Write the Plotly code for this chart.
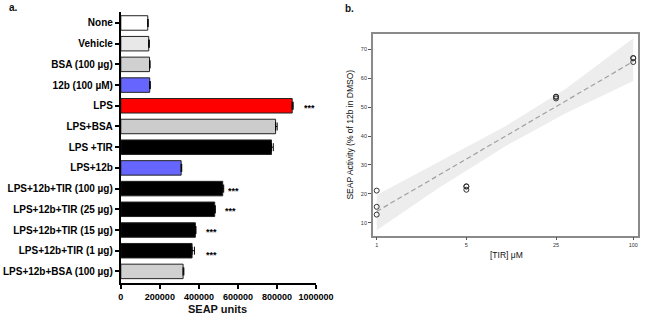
import plotly.graph_objects as go

# ---------------- Panel a data ----------------
categories = ["None", "Vehicle", "BSA (100 µg)", "12b (100 µM)", "LPS", "LPS+BSA",
              "LPS +TIR", "LPS+12b", "LPS+12b+TIR (100 µg)", "LPS+12b+TIR (25 µg)",
              "LPS+12b+TIR (15 µg)", "LPS+12b+TIR (1 µg)", "LPS+12b+BSA (100 µg)"]
seap_mean = [138000, 143000, 147000, 148000, 878000, 793000, 772000,
             309000, 522000, 481000, 382000, 365000, 319000]
seap_err = [2000, 3000, 3000, 3000, 5000, 8000, 9000,
            3000, 5000, 3000, 3000, 12000, 4000]
significance = ["", "", "", "", "***", "", "", "", "***", "***", "***", "***", ""]
seap_ticks = [0, 200000, 400000, 600000, 800000, 1000000]

# ---------------- Panel b data ----------------
tir_conc = [1, 1, 1, 5, 5, 5, 25, 25, 25, 100, 100, 100]
activity = [21.1, 15.5, 12.8, 21.4, 22.5, 22.6, 53.0, 53.6, 53.6, 65.6, 66.9, 67.0]
fit_x = [1, 100]
fit_y = [13.9, 65.8]
band_x = [1, 3, 10, 30, 100]
band_lower = [7.4, 21.8, 36.4, 48.0, 59.0]
band_upper = [19.6, 30.9, 43.3, 56.4, 73.8]
tir_ticks = [1, 5, 25, 100]
act_ticks = [10, 20, 30, 40, 50, 60, 70]

# ---------------- styles ----------------
bar_colors = ["#ffffff", "#e8e8e8", "#d0d0d0", "#6666ff", "#ff0000", "#cccccc",
              "#000000", "#6666ff", "#000000", "#000000", "#000000", "#000000", "#d0d0d0"]
star_x = [0, 0, 0, 0, 965000, 0, 0, 0, 577000, 562000, 465000, 465000, 0]
star_shift = [0, 0, 0, 0, -2, 0, 0, 0, -2, -2, -2, -4, 0]

W, H = 660, 318
FONT = "Liberation Sans, Arial, sans-serif"


def px_x(p):
    return p / W


def px_y(p):
    return (H - p) / H


fig = go.Figure()

fig.add_trace(go.Bar(
    y=categories, x=seap_mean, orientation="h", width=0.7,
    marker=dict(color=bar_colors, line=dict(color="#222222", width=1)),
    error_x=dict(type="data", array=seap_err, arrayminus=[0] * len(seap_err),
                 symmetric=False, color="black", thickness=1, width=4),
    xaxis="x", yaxis="y", hoverinfo="x+y"))

for cat, s, sx, sh in zip(categories, significance, star_x, star_shift):
    if s:
        fig.add_annotation(x=sx, y=cat, xref="x", yref="y", text="<b>" + s + "</b>",
                           showarrow=False, yshift=sh,
                           font=dict(family=FONT, size=9, color="black"))

# Panel b
fig.add_trace(go.Scatter(
    x=band_x + band_x[::-1], y=band_upper + band_lower[::-1],
    fill="toself", fillcolor="#ededed", line=dict(width=0), mode="lines",
    xaxis="x2", yaxis="y2", hoverinfo="skip"))
fig.add_trace(go.Scatter(
    x=fit_x, y=fit_y, mode="lines",
    line=dict(color="#a0a0a0", width=1.2, dash="5px,3px"),
    xaxis="x2", yaxis="y2"))
fig.add_trace(go.Scatter(
    x=tir_conc, y=activity, mode="markers",
    marker=dict(symbol="circle-open", size=5, color="#333333", line=dict(width=1)),
    xaxis="x2", yaxis="y2"))

fig.update_layout(
    width=W, height=H, autosize=False, margin=dict(l=0, r=0, t=0, b=0, pad=0),
    paper_bgcolor="white", plot_bgcolor="white", showlegend=False,
    font=dict(family=FONT, color="black"),
    xaxis=dict(domain=[px_x(121.7), px_x(323.3)], range=[0, 1000000],
               tickvals=seap_ticks, tickformat="d", anchor="y",
               showline=True, linecolor="black", linewidth=2,
               ticks="outside", ticklen=4, tickwidth=1.5, tickcolor="black",
               tickfont=dict(family=FONT, size=9, color="black", weight="bold"),
               showgrid=False, zeroline=False),
    yaxis=dict(domain=[px_y(283), px_y(12)], type="category",
               categoryorder="array", categoryarray=categories,
               range=[12.56, -0.53], anchor="x",
               showline=True, linecolor="black", linewidth=2,
               ticks="outside", ticklen=4, tickwidth=1.5, tickcolor="black",
               tickfont=dict(family=FONT, size=10, color="black", weight="bold"),
               showgrid=False, zeroline=False),
    xaxis2=dict(domain=[px_x(382), px_x(656)], type="log", range=[-0.030, 2.038],
                tickvals=tir_ticks, ticktext=[str(t) for t in tir_ticks], anchor="y2",
                showline=True, mirror=True, linecolor="#8a8a8a", linewidth=1.5,
                ticks="outside", ticklen=3, tickwidth=1, tickcolor="#555555",
                tickfont=dict(family=FONT, size=5.5, color="#333333"),
                showgrid=False, zeroline=False),
    yaxis2=dict(domain=[px_y(235.7), px_y(34)], range=[5.5, 75.3],
                tickvals=act_ticks, anchor="x2",
                showline=True, mirror=True, linecolor="#8a8a8a", linewidth=1.5,
                ticks="outside", ticklen=3, tickwidth=1, tickcolor="#555555",
                tickfont=dict(family=FONT, size=5.5, color="#333333"),
                showgrid=False, zeroline=False),
)

annots = [
    dict(text="<b>a.</b>", x=px_x(4), y=px_y(8), xanchor="left", size=10, angle=0),
    dict(text="<b>b.</b>", x=px_x(351), y=px_y(9), xanchor="left", size=10, angle=0),
    dict(text="<b>SEAP units</b>", x=px_x(222), y=px_y(309), xanchor="center", size=11, angle=0),
    dict(text="[TIR] μM", x=px_x(520), y=px_y(255), xanchor="center", size=8.5, angle=0),
    dict(text="SEAP Activity (% of 12b in DMSO)", x=px_x(358), y=px_y(135),
         xanchor="center", size=8.5, angle=-90),
]
for a in annots:
    fig.add_annotation(text=a["text"], x=a["x"], y=a["y"], xref="paper", yref="paper",
                       xanchor=a["xanchor"], yanchor="middle", showarrow=False,
                       textangle=a["angle"],
                       font=dict(family=FONT, size=a["size"], color="#111111"))

# remove the browser's default 8px page margin so the 660x318 figure fills the window
page_css = ("document.body.style.margin='0';"
            "document.body.style.overflow='hidden';"
            "document.documentElement.style.overflow='hidden';")
fig.write_html("out.html", config={"responsive": False, "displayModeBar": False},
               post_script=page_css)
